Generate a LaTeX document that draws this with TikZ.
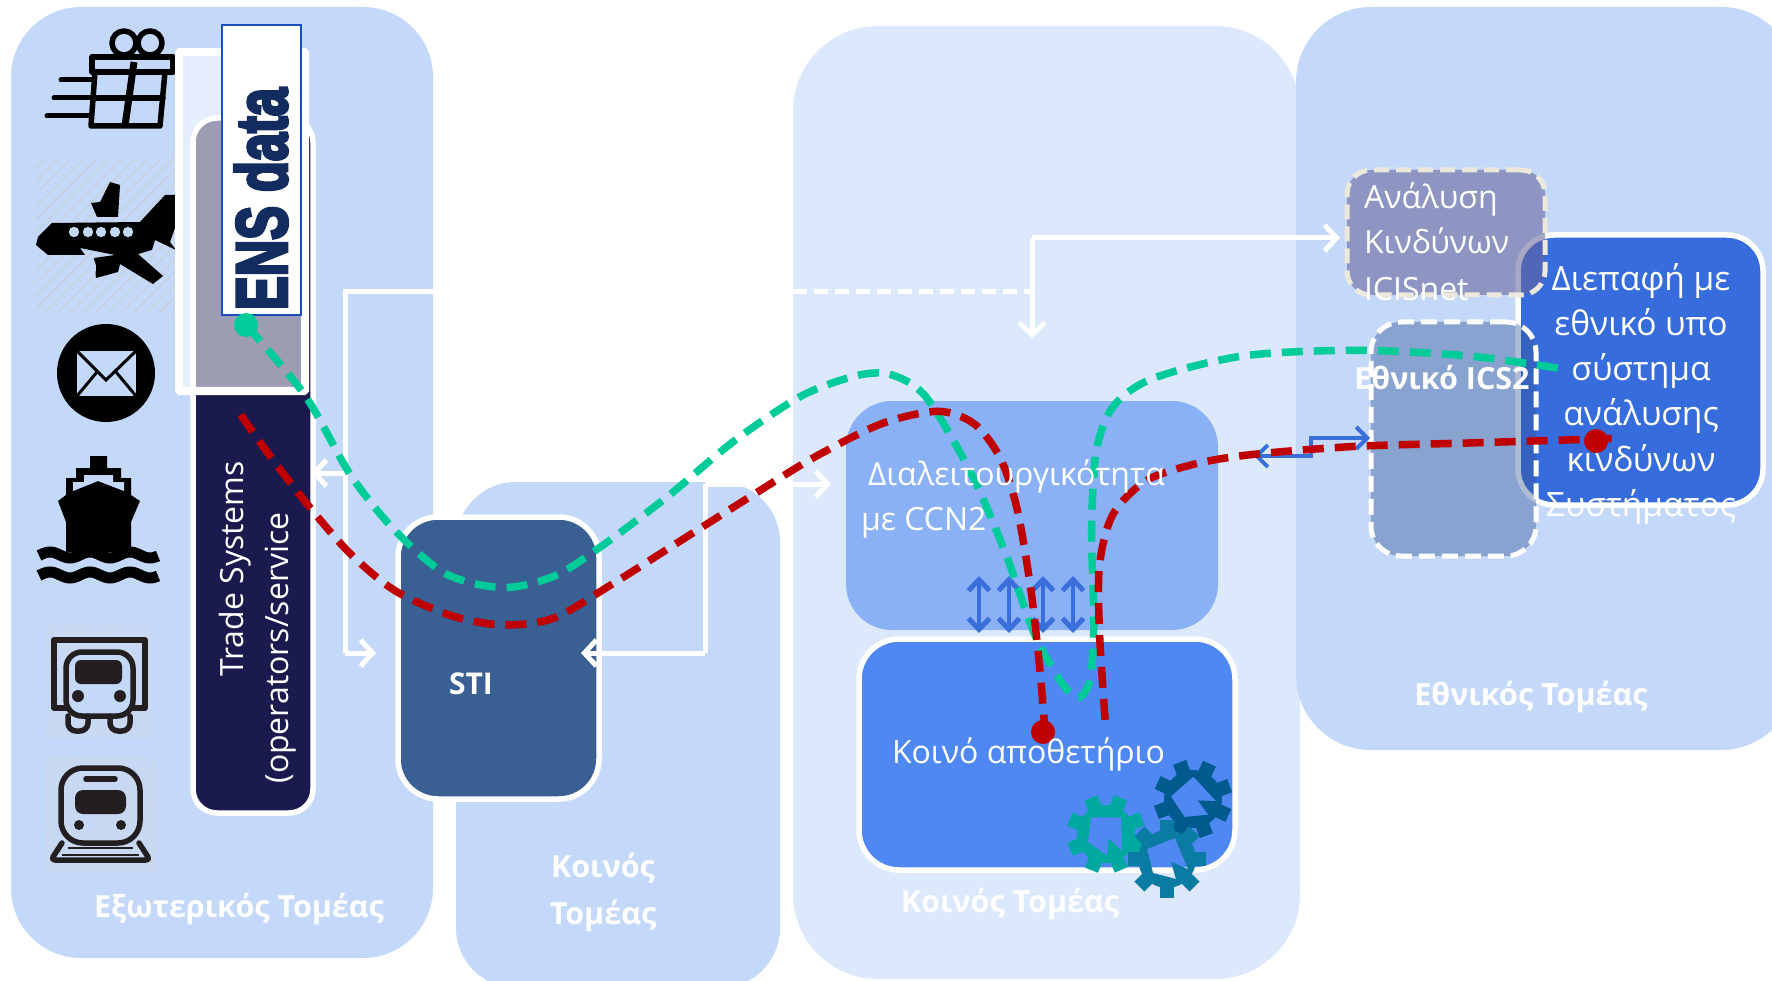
\documentclass[tikz,border=0pt]{standalone}
\usepackage{fontspec}
\usepackage{graphicx}
\setmainfont{Open Sans}
\newfontfamily\ensfont[FakeBold=5]{Liberation Sans Bold}
\usetikzlibrary{arrows.meta,patterns.meta}
\definecolor{panelA}{HTML}{C4D8FA}
\definecolor{panelB}{HTML}{DCE8FB}
\definecolor{navy}{HTML}{1A1A4E}
\definecolor{stiblue}{HTML}{3A5F92}
\definecolor{interop}{HTML}{8AB1F6}
\definecolor{repo}{HTML}{4F88F2}
\definecolor{iface}{HTML}{376CDC}
\definecolor{analysisfill}{HTML}{646299}
\definecolor{analysisedge}{HTML}{EDE8DC}
\definecolor{icsfill}{HTML}{325591}
\definecolor{arrowblue}{HTML}{3A6FDB}
\definecolor{greenline}{HTML}{00CC99}
\definecolor{redline}{HTML}{C00000}
\definecolor{ensblue}{HTML}{1A50BE}
\definecolor{enstext}{HTML}{122C60}
\definecolor{icon}{HTML}{231F20}
\definecolor{gearA}{HTML}{005A8E}
\definecolor{gearB}{HTML}{00A9A0}
\definecolor{gearC}{HTML}{0A7BA3}
\tikzset{
  boxbase/.style={anchor=north west,inner sep=0pt,outer sep=0pt},
  panel/.style={boxbase,fill=panelA,rounded corners=70pt},
  whitebox/.style={boxbase,draw=white,line width=5.5pt,rounded corners=40pt},
  txt/.style={text=white,inner sep=0pt,outer sep=0pt,font=\fontsize{32}{38}\selectfont},
  bold label/.style={text=white,inner sep=0pt,outer sep=0pt,font=\fontsize{30.5}{36}\selectfont\bfseries},
  whitearrow/.style={draw=white,line width=5pt,-{Straight Barb[length=12pt,width=26pt,line width=5pt]}},
  bluedouble/.style={draw=arrowblue,line width=4pt,{Straight Barb[length=11pt,width=21pt,line width=5pt]}-{Straight Barb[length=11pt,width=21pt,line width=5pt]}},
  curve/.style={line width=7.5pt,dash pattern=on 21pt off 11pt},
  dot/.style={circle,inner sep=0pt,outer sep=0pt,minimum size=#1},
  hatchA/.style={pattern={Lines[angle=45,distance=9pt,line width=0.9pt]},pattern color=gray!40},
  hatchB/.style={pattern={Lines[angle=45,distance=3pt,line width=0.5pt]},pattern color=gray!30},
  iconline/.style={draw=black,line width=5.5pt,line cap=round,line join=round},
  truckline/.style={draw=icon,line width=5.5pt,line cap=round,line join=round}
}
\newcommand{\gearicon}[4]{%
  \begin{scope}[shift={(#1,#2)},rotate=#4]
    \foreach \a in {0,45,...,315}{\fill[#3,rotate=\a] (-7,-39) rectangle (7,-24);}
    \fill[#3,even odd rule] (0,0) circle (29pt)
      (-20,-10) -- (8,-21) -- (21,10) -- (4,3) -- (9,20) -- (-14,14) -- cycle;
  \end{scope}}
\begin{document}
\begin{tikzpicture}[x=1pt,y=-1pt]
\useasboundingbox (0,0) rectangle (1772,981);
\clip (0,0) rectangle (1772,981);
\fill[white] (0,0) rectangle (1772,981);

% panels
\node[panel,minimum width=422pt,minimum height=951pt] (pOuter) at (11,7) {};
\node[panel,rounded corners=60pt,minimum width=324pt,minimum height=506pt] (pSmall) at (456,482) {};
\node[panel,fill=panelB,rounded corners=85pt,minimum width=507pt,minimum height=953pt] (pCommon) at (793,26) {};
\node[panel,rounded corners=75pt,minimum width=500pt,minimum height=743pt] (pNational) at (1296,7) {};

% icons: gift
\draw[iconline] (92,57) rectangle (173,72);
\draw[iconline] (95,72) -- (91,126) -- (160,126) -- (165,72);
\draw[iconline] (93,98) -- (163,98);
\draw[iconline,line width=7pt,line cap=butt] (134,62) -- (125,126);
\draw[iconline] (124,43) circle (12pt) (150,43) circle (12pt);
\draw[iconline,line width=5pt] (61,80) -- (93,80) (54,98) -- (92,98) (47,116) -- (91,116);
% icons: plane
\fill[hatchA] (36,160) rectangle (176,313);
\fill[black] (52,223) -- (140,222) -- (165,195) -- (178,195) -- (176,225) -- (170,242) -- (176,250) -- (155,240) -- (152,250) -- (138,254) -- (163,276) -- (153,284) -- (120,264) -- (118,272) -- (96,278) -- (94,258) -- (115,255) -- (80,248) -- (85,255) -- (48,255) -- (36,245) -- (38,237) -- cycle;
\fill[black] (91,203) -- (100,202) -- (110,182) -- (120,185) -- (118,217) -- (97,217) -- cycle;
\fill[panelA] (93,268) ellipse (3pt and 8pt) (90,210) ellipse (2pt and 6pt);
\foreach \wx in {74,88,101,115,128}{\fill[panelA] (\wx,232) circle (5.2pt);}
% icons: mail
\node[dot=98pt,fill=black] (mailIcon) at (106,373) {};
\fill[panelA] (77,351) rectangle (136,396);
\draw[black,line width=3pt] (77,351) -- (106,380) -- (136,351) (77,396) -- (97,372) (136,396) -- (116,372);
% icons: ship
\fill[black] (90,456) -- (107,456) -- (107,468) -- (121,468) -- (121,478) -- (131,478) -- (131,495) -- (140,501) -- (131,522) -- (131,552) -- (66,552) -- (66,522) -- (58,501) -- (66,495) -- (66,478) -- (76,478) -- (76,468) -- (90,468) -- cycle;
\fill[panelA] (73,491) -- (73,482) -- (84,482) -- (84,475) -- (113,475) -- (113,482) -- (124,482) -- (124,491) -- (98,481) -- cycle;
\draw[black,line width=11pt] plot[domain=39:158,samples=50] (\x,{555+3*sin(9*(\x-20))});
\draw[black,line width=11pt] plot[domain=39:158,samples=50] (\x,{575+3*sin(9*(\x-20))});
% icons: truck
\fill[hatchB] (46,625) rectangle (152,737);
\draw[truckline] (54,640) rectangle (145,708);
\draw[truckline,fill=panelA,rounded corners=16pt] (66,716) -- (66,652) -- (133,652) -- (133,716) -- cycle;
\fill[icon,rounded corners=6pt] (75,660) rectangle (122,684);
\fill[icon] (78,696) circle (6pt) (120,696) circle (6pt);
\draw[truckline,rounded corners=8pt] (68,716) -- (68,731) -- (88,731) -- (88,716);
\draw[truckline,rounded corners=8pt] (110,716) -- (110,731) -- (130,731) -- (130,716);
% icons: train
\fill[hatchB] (44,757) rectangle (157,872);
\draw[truckline,rounded corners=22pt] (61,768) rectangle (140,843);
\draw[truckline] (86,779) -- (115,779);
\fill[icon,rounded corners=8pt] (75,790) rectangle (126,814);
\fill[icon] (79,825) circle (5pt) (121,825) circle (5pt);
\draw[truckline,rounded corners=4pt] (62,843) -- (51,860) -- (150,860) -- (139,843);
\draw[icon,line width=2pt] (68,848) -- (133,848) (62,855) -- (139,855);

% trade system and overlay
\node[whitebox,fill=navy,rounded corners=24pt,minimum width=120pt,minimum height=695pt] (trade) at (193,118) {};
\node[boxbase,draw=white,fill=white,fill opacity=0.57,line width=8pt,rounded corners=1pt,minimum width=126pt,minimum height=339pt] (overlay) at (179,52) {};
\node[boxbase,draw=ensblue,fill=white,line width=2.5pt,minimum width=79pt,minimum height=290pt] (ens) at (222,25) {};
\node[rotate=90,inner sep=0pt,text=enstext] (ensText) at (261,199) {\resizebox{222pt}{52pt}{\ensfont ENS data}};

% other boxes
\node[whitebox,fill=stiblue,minimum width=201pt,minimum height=282pt] (sti) at (398,517) {};
\node[boxbase,fill=interop,rounded corners=46pt,minimum width=372pt,minimum height=229pt] (interopBox) at (846,401) {};
\node[whitebox,fill=repo,minimum width=376pt,minimum height=231pt] (repoBox) at (859,639) {};
\node[whitebox,fill=iface,rounded corners=36pt,minimum width=245pt,minimum height=270pt] (ifaceBox) at (1518,235) {};
\node[boxbase,fill=analysisfill,fill opacity=0.56,draw opacity=1,draw=analysisedge,line width=5pt,dash pattern=on 15pt off 7pt,rounded corners=24pt,minimum width=198pt,minimum height=125pt] (analysisBox) at (1347,170) {};
\node[boxbase,fill=icsfill,fill opacity=0.4,draw opacity=1,draw=white,line width=5pt,dash pattern=on 16pt off 7pt,rounded corners=30pt,minimum width=165pt,minimum height=234pt] (icsBox) at (1371,322) {};

% white connectors
\coordinate (wa) at (433,292); \coordinate (wb) at (345,292);
\coordinate (wc) at (345,653); \coordinate (wd) at (376,653);
\coordinate (we) at (345,473); \coordinate (wf) at (311,473);
\draw[whitearrow,-] (wa) -- (wb) -- (wc);
\draw[whitearrow] (wc) -- (wd);
\draw[whitearrow] (we) -- (wf);
\coordinate (xa) at (705,653); \coordinate (xb) at (705,484);
\coordinate (xc) at (831,484); \coordinate (xd) at (581,653);
\draw[whitearrow] (xa) -- (xd);
\draw[whitearrow,-] (xa) -- (xb);
\draw[whitearrow] (xb) -- (xc);
\coordinate (ya) at (793,292); \coordinate (yb) at (1032,292);
\coordinate (yc) at (1032,238); \coordinate (yd) at (1032,338); \coordinate (ye) at (1340,238);
\draw[white,line width=5pt,dash pattern=on 14pt off 7pt] (ya) -- (yb);
\draw[whitearrow] (yc) -- (yd);
\draw[whitearrow] (yc) -- (ye);

% blue connectors
\foreach \n/\ax in {1/979,2/1009,3/1043,4/1073}{
  \coordinate (da\n) at (\ax,576); \coordinate (db\n) at (\ax,633);
  \draw[bluedouble] (da\n) -- (db\n);
}
\coordinate (za) at (1370,438); \coordinate (zb) at (1311,438);
\coordinate (zc) at (1311,456); \coordinate (zd) at (1254,456);
\draw[draw=arrowblue,line width=4pt,{Straight Barb[length=11pt,width=22pt,line width=4pt]}-{Straight Barb[length=11pt,width=22pt,line width=4pt]}] (za) -- (zb) -- (zc) -- (zd);

% gears
\gearicon{1193}{799}{gearA}{20}
\gearicon{1106}{834}{gearB}{-22}
\gearicon{1167}{859}{gearC}{0}

% curves (points given at 1568-wide scale)
\begin{scope}[scale=1.13]
\draw[greenline,curve] plot[smooth,tension=0.5] coordinates {(218,288) (270,350) (310,420) (350,470) (395,508) (445,520) (490,510) (530,485) (590,440) (650,390) (710,350) (760,332) (790,332) (820,352) (860,420) (890,490) (915,560) (940,605) (955,617) (965,600) (968,550) (966,470) (970,400) (985,360) (1020,335) (1100,315) (1200,310) (1300,315) (1380,326)};
\draw[redline,curve] plot[smooth,tension=0.5] coordinates {(213,367) (240,405) (275,450) (310,490) (350,523) (400,545) (445,553) (490,547) (540,518) (600,480) (660,442) (720,405) (780,375) (830,364) (862,375) (885,405) (900,450) (912,520) (920,590) (925,650)};
\draw[redline,curve] plot[smooth,tension=0.5] coordinates {(978,637) (973,560) (973,500) (985,455) (1015,425) (1060,410) (1110,402) (1200,395) (1300,392) (1430,388)};
\end{scope}
\node[dot=24pt,fill=greenline] (greenStart) at (246,325) {};
\node[dot=24pt,fill=redline] (redStartA) at (1043,732) {};
\node[dot=24pt,fill=redline] (redStartB) at (1596,441) {};

% text
\node[txt,rotate=90,anchor=base] (tradeA) at (243,569) {Trade Systems};
\node[txt,rotate=90,anchor=base] (tradeB) at (288,648) {(operators/service};
\node[txt,anchor=base,font=\fontsize{30}{36}\selectfont\bfseries] (stiText) at (471,694) {STI};
\node[txt,anchor=base west] (interA) at (868,485) {Διαλειτουργικότητα};
\node[txt,anchor=base west] (interB) at (861,530) {με CCN2};
\node[txt,anchor=base west] (repoText) at (892,763) {Κοινό αποθετήριο};
\node[txt,anchor=base west] (anaA) at (1364,209) {Ανάλυση};
\node[txt,anchor=base west] (anaB) at (1364,254) {Κινδύνων};
\node[txt,anchor=base west] (anaC) at (1364,301) {ICISnet};
\node[bold label,anchor=base] (icsText) at (1442,389) {Εθνικό ICS2};
\foreach \nm/\by/\tx in {a/291/Διεπαφή με,b/336/εθνικό υπο,c/381/σύστημα,d/425/ανάλυσης,e/471/κινδύνων,f/516/Συστήματος}{
  \node[txt,anchor=base,font=\fontsize{33.5}{40}\selectfont] (if\nm) at (1641,\by) {\tx};
}
\node[bold label,anchor=base] (lblOuter) at (239,917) {Εξωτερικός Τομέας};
\node[bold label,anchor=base] (lblSmallA) at (603,877) {Κοινός};
\node[bold label,anchor=base] (lblSmallB) at (603,924) {Τομέας};
\node[bold label,anchor=base] (lblCommon) at (1010,912) {Κοινός Τομέας};
\node[bold label,anchor=base] (lblNational) at (1531,705) {Εθνικός Τομέας};
\end{tikzpicture}
\end{document}
